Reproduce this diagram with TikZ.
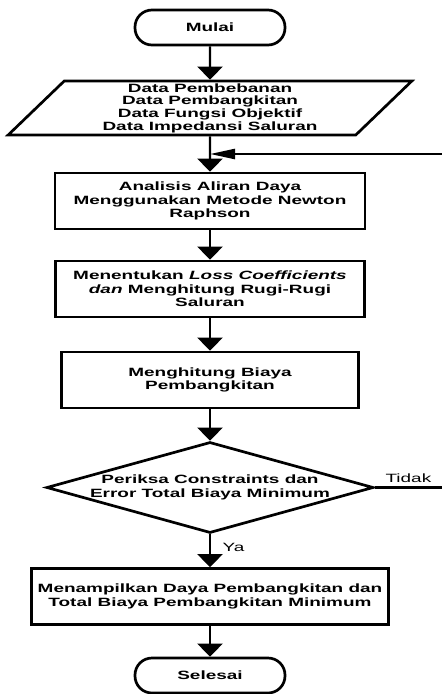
\documentclass[tikz,border=0pt]{standalone}
\usepackage{fontspec}
\setmainfont{Liberation Sans}[FakeStretch=1.58]
\usetikzlibrary{shapes.geometric, arrows.meta}
\newcommand{\flowfont}{\fontsize{12}{13.6}\selectfont\bfseries}
\tikzstyle{startstop} = [rectangle, rounded corners=17pt, 
minimum width=150pt, 
minimum height=35pt,
align=center, 
draw=black, line width=2.7pt, 
font=\flowfont]
\tikzstyle{io} = [trapezium, 
trapezium stretches=true, 
trapezium left angle=50, 
trapezium right angle=130, 
minimum width=404pt, 
minimum height=54pt, inner sep=0pt, align=center, 
draw=black, line width=2.7pt, 
font=\fontsize{12}{12.7}\selectfont\bfseries]
\tikzstyle{process} = [rectangle, 
minimum width=309pt, 
minimum height=56pt, 
align=center, 
draw=black, line width=2.7pt, 
font=\flowfont]
\tikzstyle{decision} = [diamond, aspect=3.6, 
minimum width=327pt, 
minimum height=91pt, inner sep=-1pt, 
align=center, 
draw=black, line width=2.7pt, 
font=\flowfont]
\tikzstyle{arrow} = [line width=2.4pt, -{Triangle[length=13pt,width=25pt]}]
\tikzstyle{backarrow} = [line width=2.4pt, -{Triangle[length=25pt,width=10pt]}]
\tikzstyle{label} = [font=\fontsize{12}{13.6}\selectfont]

\begin{document}
\begin{tikzpicture}[x=1pt, y=1pt, node distance=90pt]
\useasboundingbox (0,0) rectangle (442,-694);

\node (mulai) [startstop] at (210,-27.5) {Mulai};
\node (data) [io, below of=mulai, yshift=9.5pt] 
             {Data Pembebanan\\Data Pembangkitan\\Data Fungsi Objektif\\Data Impedansi Saluran};
\node (aliran) [process, below of=data, yshift=-3pt, minimum width=310pt] 
               {Analisis Aliran Daya\\Menggunakan Metode Newton\\Raphson};
\node (rugi) [process, below of=aliran, yshift=2pt] 
             {Menentukan \textit{Loss Coefficients}\\\textit{dan} Menghitung Rugi-Rugi\\Saluran};
\node (biaya) [process, below of=rugi, yshift=-1pt, minimum width=297pt] 
              {Menghitung Biaya\\Pembangkitan};
\node (cek) [decision, below of=biaya, yshift=-17.5pt] 
            {Periksa Constraints dan\\Error Total Biaya Minimum};
\node (hasil) [process, below of=cek, yshift=-19pt, minimum width=357pt] 
              {Menampilkan Daya Pembangkitan dan\\Total Biaya Pembangkitan Minimum};
\node (selesai) [startstop, below of=hasil, yshift=11pt] {Selesai};

\coordinate (balik) at (442,-154);
\coordinate (tidak) at (442,-487.5);

\draw [arrow] (mulai) -- (data);
\draw [arrow] (data) -- (aliran);
\draw [backarrow] (balik) -- (balik -| aliran.north);
\draw [arrow] (aliran) -- (rugi);
\draw [arrow] (rugi) -- (biaya);
\draw [arrow] (biaya) -- (cek);
\draw [line width=2.4pt] (cek.east) -- node[label, above] {Tidak} (tidak);
\draw [arrow] (cek) -- node[label, right, xshift=8pt, yshift=3pt] {Ya} (hasil);
\draw [arrow] (hasil) -- (selesai);

\end{tikzpicture}
\end{document}
